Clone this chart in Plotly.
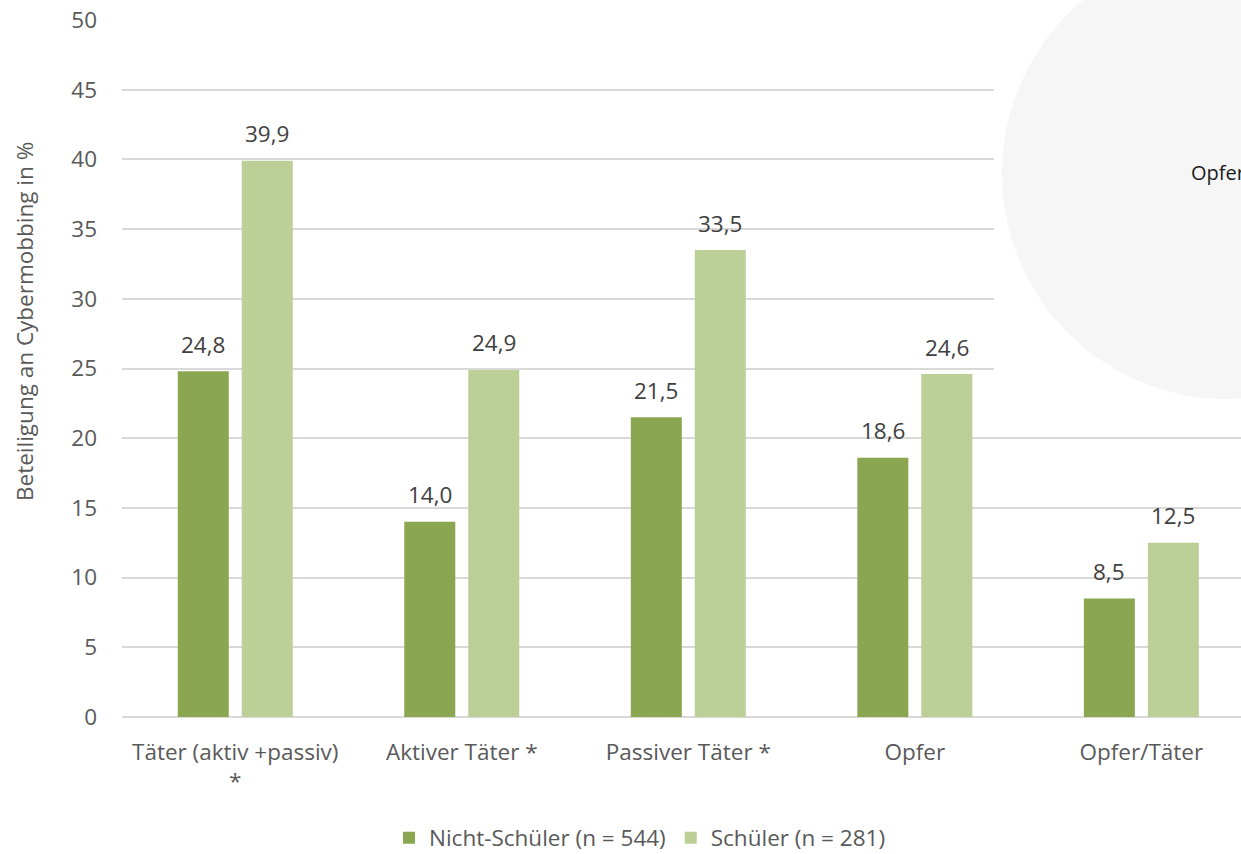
import plotly.graph_objects as go

# Beteiligung an Cybermobbing: Nicht-Schüler vs. Schüler
categories = ["Täter (aktiv +passiv)<br>*", "Aktiver Täter *", "Passiver Täter *", "Opfer", "Opfer/Täter"]
nicht_schueler = [24.8, 14.0, 21.5, 18.6, 8.5]
schueler = [39.9, 24.9, 33.5, 24.6, 12.5]
series_names = ["Nicht-Schüler (n = 544)", "Schüler (n = 281)"]
y_ticks = [0, 5, 10, 15, 20, 25, 30, 35, 40, 45, 50]

W, H = 1241, 854
L, R, T, B = 122, 0, 20, 137
FONT = "Open Sans"
FS = 22.5
TEXT = "#595959"

def px_x(p):
    return (p - L) / (W - L - R)

def px_y(p):
    return (H - B - p) / (H - B - T)

fig = go.Figure()
colors = ["#8BA650", "#BBCF97"]
series = [nicht_schueler, schueler]
for name, vals, color in zip(series_names, series, colors):
    fig.add_trace(go.Bar(
        x=list(range(len(categories))), y=vals, name=name,
        marker=dict(color=color, line=dict(width=0)),
    ))

# value labels above each bar (bars sit 32 px either side of the category centre)
for k, vals in enumerate(series):
    for i, v in enumerate(vals):
        fig.add_annotation(
            x=i, y=v, xref="x", yref="y",
            text=f"{v:.1f}".replace(".", ","),
            showarrow=False, xanchor="center", yanchor="middle",
            xshift=-32 if k == 0 else 32, yshift=27,
            font=dict(family=FONT, size=FS, color="#404040"),
        )

# white panel with a pale disc in the upper right corner
fig.add_shape(type="rect", xref="paper", yref="paper",
              x0=px_x(994), x1=px_x(1300), y0=px_y(402), y1=px_y(-10),
              fillcolor="white", line=dict(width=0), layer="above")
fig.add_shape(type="circle", xref="paper", yref="paper",
              x0=px_x(1002), x1=px_x(1452), y0=px_y(399), y1=px_y(-52),
              fillcolor="#F6F6F6", line=dict(width=0), layer="above")
fig.add_annotation(text="Opfer", xref="paper", yref="paper",
                   x=px_x(1189), y=px_y(173), xanchor="left", yanchor="middle",
                   showarrow=False, font=dict(family=FONT, size=20, color="#1A1A1A"))

# y-axis title
fig.add_annotation(text="Beteiligung an Cybermobbing in %", xref="paper", yref="paper",
                   x=px_x(25), y=px_y(322), xanchor="center", yanchor="middle",
                   textangle=-90, showarrow=False,
                   font=dict(family=FONT, size=FS, color=TEXT))

fig.update_layout(
    width=W, height=H,
    margin=dict(l=L, r=R, t=T, b=B, pad=0, autoexpand=False),
    paper_bgcolor="white", plot_bgcolor="white",
    barmode="group", bargap=0.435, bargroupgap=0.203,
    font=dict(family=FONT, size=FS, color=TEXT),
    showlegend=True,
    legend=dict(orientation="h", xref="container", yref="container",
                x=640 / W, y=1 - 838 / H, xanchor="center", yanchor="middle",
                font=dict(family=FONT, size=FS, color=TEXT),
                itemwidth=30, tracegroupgap=0),
    xaxis=dict(
        range=[-0.5, 4.44], tickmode="array",
        tickvals=list(range(len(categories))), ticktext=categories,
        showgrid=False, zeroline=False, showline=False, ticks="",
        ticklabelstandoff=19, automargin=False,
        tickfont=dict(family=FONT, size=FS, color=TEXT),
    ),
    yaxis=dict(
        range=[0, 50], tickmode="array", tickvals=y_ticks,
        showgrid=True, gridcolor="#D9D9D9", gridwidth=1.5,
        zeroline=True, zerolinecolor="#D9D9D9", zerolinewidth=1.5,
        showline=False, ticks="", ticklabelstandoff=24, automargin=False,
        tickfont=dict(family=FONT, size=FS, color=TEXT),
    ),
)

fig.write_html("out.html")
